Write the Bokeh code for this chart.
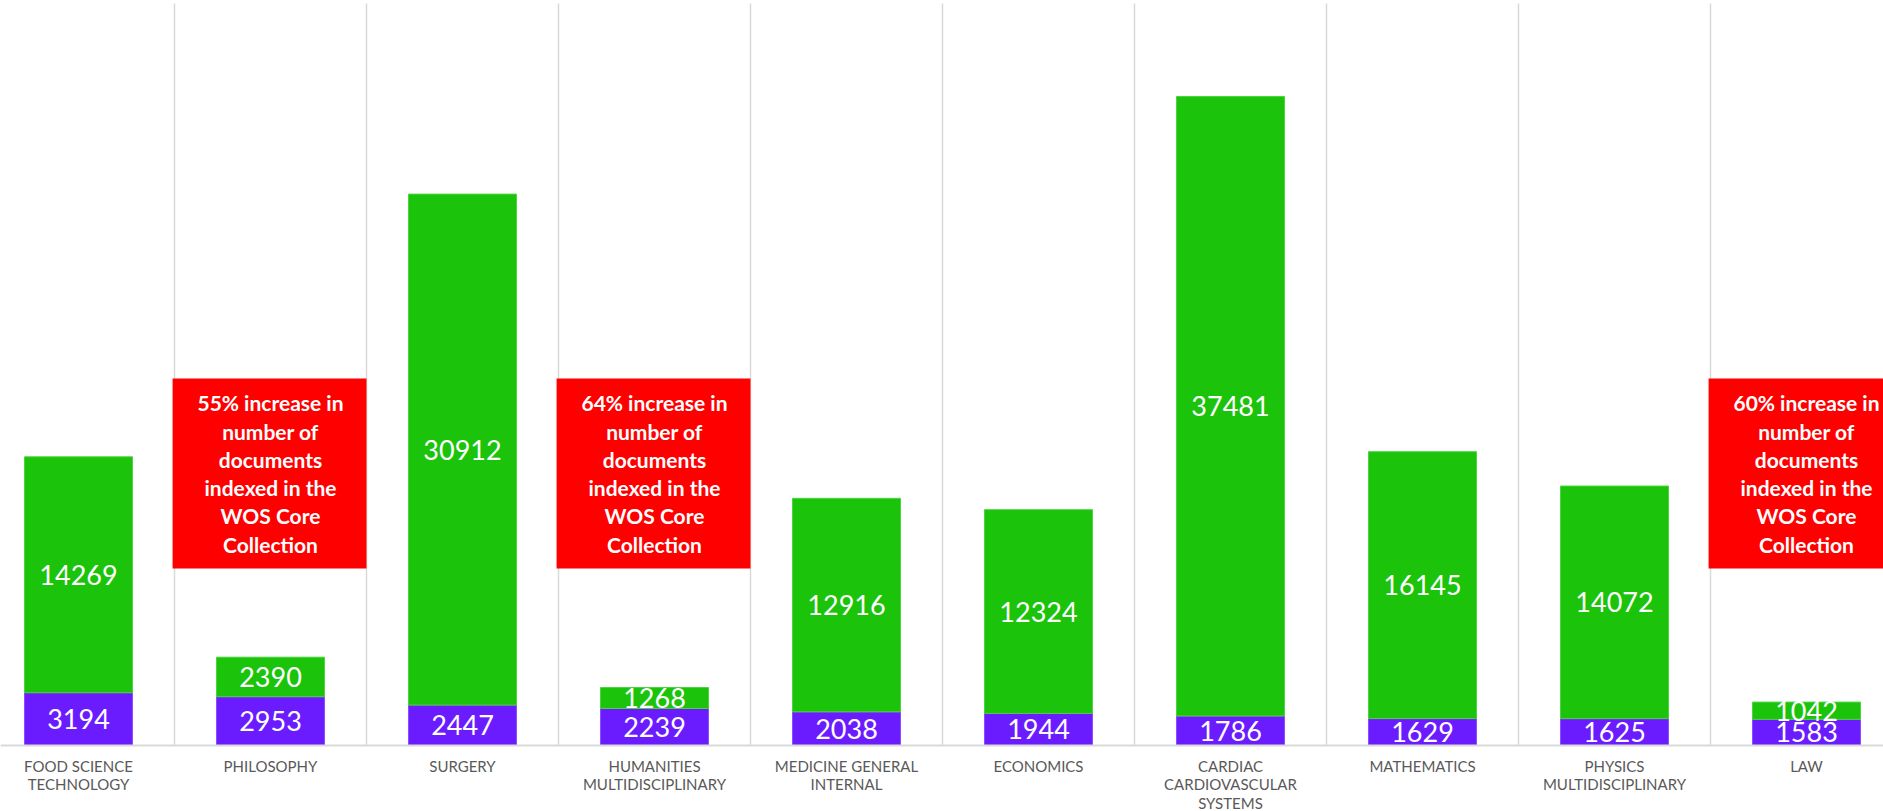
from bokeh.plotting import figure
from bokeh.models import Range1d, ColumnDataSource, Span
from bokeh.core.properties import value
from bokeh.embed import file_html
from bokeh.resources import INLINE

# ---- data ----
categories = [
    "FOOD SCIENCE\nTECHNOLOGY",
    "PHILOSOPHY",
    "SURGERY",
    "HUMANITIES\nMULTIDISCIPLINARY",
    "MEDICINE GENERAL\nINTERNAL",
    "ECONOMICS",
    "CARDIAC\nCARDIOVASCULAR\nSYSTEMS",
    "MATHEMATICS",
    "PHYSICS\nMULTIDISCIPLINARY",
    "LAW",
]
purple_values = [3194, 2953, 2447, 2239, 2038, 1944, 1786, 1629, 1625, 1583]
green_values = [14269, 2390, 30912, 1268, 12916, 12324, 37481, 16145, 14072, 1042]

note_categories = [1, 3, 9]
note_texts = [
    "55% increase in\nnumber of\ndocuments\nindexed in the\nWOS Core\nCollection",
    "64% increase in\nnumber of\ndocuments\nindexed in the\nWOS Core\nCollection",
    "60% increase in\nnumber of\ndocuments\nindexed in the\nWOS Core\nCollection",
]

# ---- styling / layout ----
W, H = 1883, 811
GREEN = "#1BC30A"
PURPLE = "#6B1CFF"
RED = "#FF0000"
GRID = "#D9D9D9"
FONT = "Lato"
UPP = 60.5            # data units per screen pixel (vertical)
BASE_PX = 745         # screen y of the baseline

xs = list(range(len(categories)))
totals = [a + b for a, b in zip(purple_values, green_values)]

p = figure(
    width=W, height=H,
    x_range=Range1d(-0.40625, -0.40625 + W / 192.0),
    y_range=Range1d(-(H - BASE_PX) * UPP, BASE_PX * UPP),
    output_backend="svg", toolbar_location=None,
    x_axis_location=None, y_axis_location=None,
    min_border_left=0, min_border_right=0, min_border_top=0, min_border_bottom=0,
)
p.outline_line_color = None
p.xgrid.visible = False
p.ygrid.visible = False

# category separators (vertical gridlines) and baseline
p.segment(x0=[i + 0.5 for i in range(len(categories) - 1)], y0=0,
          x1=[i + 0.5 for i in range(len(categories) - 1)], y1=(BASE_PX - 3) * UPP,
          line_color=GRID, line_width=1.5)
p.add_layout(Span(location=0, dimension="width", line_color=GRID, line_width=2))

src = ColumnDataSource(dict(
    x=xs,
    purple=purple_values,
    green=green_values,
    total=totals,
    pmid=[v / 2 for v in purple_values],
    gmid=[a + b / 2 for a, b in zip(purple_values, green_values)],
    plab=[str(v) for v in purple_values],
    glab=[str(v) for v in green_values],
    cat=categories,
))

p.vbar(x="x", bottom=0, top="purple", width=0.5625, source=src,
       fill_color=PURPLE, line_color="#8A4DFF", line_width=1)
p.vbar(x="x", bottom="purple", top="total", width=0.5625, source=src,
       fill_color=GREEN, line_color="#4CD43E", line_width=1)

p.text(x="x", y="pmid", text="plab", source=src, text_align="center",
       text_baseline="middle", text_color="white",
       text_font=value(FONT), text_font_size="27px")
p.text(x="x", y="gmid", text="glab", source=src, text_align="center",
       text_baseline="middle", text_color="white",
       text_font=value(FONT), text_font_size="27px")

# category labels below the baseline
p.text(x="x", y=0, text="cat", source=src, y_offset=11,
       text_align="center", text_baseline="top", text_color="#595959",
       text_font=value(FONT), text_font_size="15px", text_line_height=1.04)

# annotation boxes
note_src = ColumnDataSource(dict(
    left=[c - 0.51 for c in note_categories],
    right=[c + 0.5 for c in note_categories],
    x=note_categories,
    text=note_texts,
))
p.quad(left="left", right="right", bottom=(BASE_PX - 568) * UPP, top=(BASE_PX - 378) * UPP,
       source=note_src, fill_color=RED, line_color=None)
p.text(x="x", y=(BASE_PX - 473) * UPP, text="text", source=note_src, text_align="center",
       text_baseline="middle", text_color="white", text_font=value(FONT),
       text_font_size="21px", text_font_style="bold", text_line_height=1.13)

open("out.html", "w").write(file_html(p, INLINE))
